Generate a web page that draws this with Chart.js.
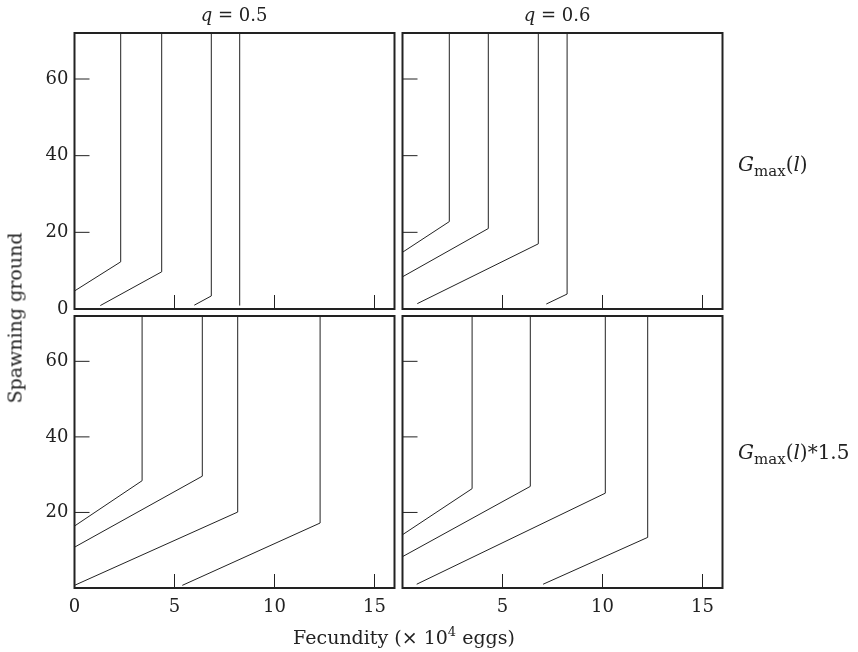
<!DOCTYPE html>
<html lang="en">
<head>
    <meta charset="UTF-8">
    <title>Spawning ground vs fecundity</title>
    <script src="https://cdn.jsdelivr.net/npm/chart.js@4.4.0/dist/chart.umd.min.js"></script>
    <style>
        html, body { margin: 0; padding: 0; background: #fff; }
        #wrap { position: relative; width: 858px; height: 652px; overflow: hidden; }
        #wrap canvas { position: absolute; left: 0; top: 0; }
        .lbl { position: absolute; font-family: "DejaVu Serif", serif; font-size: 19px; color: #222; white-space: nowrap; line-height: 1; }
        .lbl sub { font-size: 14px; vertical-align: -5px; }
        .lbl sup { font-size: 13px; vertical-align: 8px; }
        .side { font-size: 20px; }
        .side sub { font-size: 15px; }
    </style>
</head>
<body>
    <div id="wrap">
        <canvas id="tl" width="858" height="652"></canvas>
        <canvas id="tr" width="858" height="652"></canvas>
        <canvas id="bl" width="858" height="652"></canvas>
        <canvas id="br" width="858" height="652"></canvas>

        <div class="lbl" style="left:234px; top:15px; transform:translate(-50%,-50%); font-size:18px;"><i>q</i> = 0.5</div>
        <div class="lbl" style="left:557px; top:15px; transform:translate(-50%,-50%); font-size:18px;"><i>q</i> = 0.6</div>
        <div class="lbl side" style="left:738px; top:166px; transform:translateY(-50%);"><i>G</i><sub>max</sub>(<i>l</i>)</div>
        <div class="lbl side" style="left:738px; top:454px; transform:translateY(-50%);"><i>G</i><sub>max</sub>(<i>l</i>)*1.5</div>
        <div class="lbl" style="left:404px; top:636px; transform:translate(-50%,-50%);">Fecundity (× 10<sup>4</sup> eggs)</div>
        <div class="lbl" style="left:15px; top:318px; transform:translate(-50%,-50%) rotate(-90deg);">Spawning ground</div>
    </div>

    <script>
        // axis ranges and ticks
        const xMin = 0, xMax = 16;
        const yMin = 0, yMax = 72;
        const xTickMarks = [5, 10, 15];
        const yTickMarks = [20, 40, 60];
        const xTickLabels = [0, 5, 10, 15];
        const yTickLabels = [0, 20, 40, 60];

        // each line: start on the slope, knee, then straight up to the top
        const gmaxQ05 = [
            [[0, 4.7], [2.31, 12.3], [2.31, 72]],
            [[1.29, 0.9], [4.36, 9.7], [4.36, 72]],
            [[5.99, 1.0], [6.84, 3.4], [6.84, 72]],
            [[8.26, 0.9], [8.26, 72]]
        ];
        const gmaxQ06 = [
            [[0, 14.8], [2.34, 22.8], [2.34, 72]],
            [[0, 8.4], [4.29, 21.0], [4.29, 72]],
            [[0.74, 1.4], [6.79, 17.0], [6.79, 72]],
            [[7.19, 1.3], [8.23, 3.9], [8.23, 72]]
        ];
        const gmax15Q05 = [
            [[0, 16.4], [3.38, 28.4], [3.38, 72]],
            [[0, 10.8], [6.39, 29.6], [6.39, 72]],
            [[0, 0.7], [8.16, 20.1], [8.16, 72]],
            [[5.39, 0.7], [12.28, 17.2], [12.28, 72]]
        ];
        const gmax15Q06 = [
            [[0, 14.1], [3.48, 26.3], [3.48, 72]],
            [[0, 8.3], [6.39, 26.9], [6.39, 72]],
            [[0.71, 1.0], [10.14, 25.1], [10.14, 72]],
            [[7.03, 1.0], [12.26, 13.4], [12.26, 72]]
        ];

        const W = 858, H = 652;
        const ink = '#222';
        const tickFont = { family: 'DejaVu Serif', size: 18 };
        // room kept for tick labels outside each panel
        const yAxisW = 40, xAxisH = 30;

        // inward tick marks and the box round each panel
        const framePlugin = {
            id: 'frame',
            afterDatasetsDraw(chart) {
                const { ctx, chartArea: a, scales: { x, y } } = chart;
                ctx.save();
                ctx.strokeStyle = ink;
                ctx.lineWidth = 1;
                ctx.beginPath();
                xTickMarks.forEach(v => {
                    const px = x.getPixelForValue(v);
                    ctx.moveTo(px, a.bottom);
                    ctx.lineTo(px, a.bottom - 14);
                });
                yTickMarks.forEach(v => {
                    const py = y.getPixelForValue(v);
                    ctx.moveTo(a.left, py);
                    ctx.lineTo(a.left + 15, py);
                });
                ctx.stroke();
                ctx.lineWidth = 2;
                ctx.strokeRect(a.left, a.top, a.right - a.left, a.bottom - a.top);
                ctx.restore();
            }
        };

        function makePanel(id, lines, box, showX, showY, xLabels, yLabels) {
            const datasets = lines.map(pts => ({
                data: pts.map(p => ({ x: p[0], y: p[1] })),
                showLine: true,
                borderColor: ink,
                borderWidth: 1,
                pointRadius: 0,
                fill: false,
                tension: 0
            }));
            return new Chart(document.getElementById(id), {
                type: 'scatter',
                data: { datasets },
                options: {
                    responsive: false,
                    animation: false,
                    events: [],
                    layout: {
                        padding: {
                            left: box[0] - yAxisW,
                            top: box[1],
                            right: W - box[2],
                            bottom: H - box[3] - xAxisH
                        }
                    },
                    plugins: { legend: { display: false }, tooltip: { enabled: false } },
                    scales: {
                        x: {
                            type: 'linear', min: xMin, max: xMax,
                            grid: { display: false, drawTicks: false },
                            border: { display: false },
                            afterFit: s => { s.height = xAxisH; },
                            afterBuildTicks: s => { s.ticks = xLabels.map(v => ({ value: v })); },
                            ticks: { display: showX, padding: 9, font: tickFont, color: ink, maxRotation: 0, autoSkip: false }
                        },
                        y: {
                            type: 'linear', min: yMin, max: yMax,
                            grid: { display: false, drawTicks: false },
                            border: { display: false },
                            afterFit: s => { s.width = yAxisW; },
                            afterBuildTicks: s => { s.ticks = yLabels.map(v => ({ value: v })); },
                            ticks: { display: showY, padding: 6, font: tickFont, color: ink, autoSkip: false }
                        }
                    }
                },
                plugins: [framePlugin]
            });
        }

        // panel boxes: left, top, right, bottom
        makePanel('tl', gmaxQ05, [74.5, 33, 394.5, 309], false, true, xTickLabels, yTickLabels);
        makePanel('tr', gmaxQ06, [402.5, 33, 722.5, 309], false, false, xTickLabels, yTickLabels);
        makePanel('bl', gmax15Q05, [74.5, 316, 394.5, 588], true, true, xTickLabels, yTickLabels.slice(1));
        makePanel('br', gmax15Q06, [402.5, 316, 722.5, 588], true, false, xTickLabels.slice(1), yTickLabels);
    </script>
</body>
</html>
